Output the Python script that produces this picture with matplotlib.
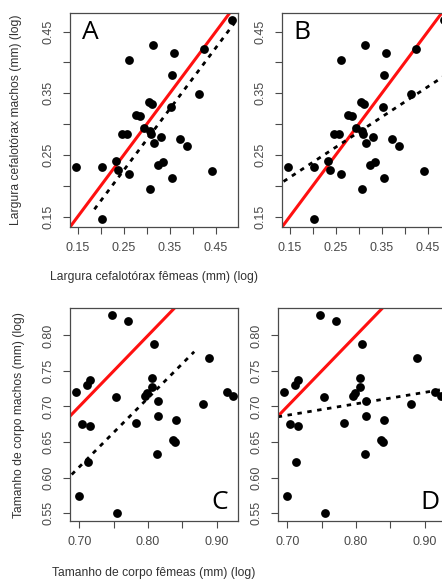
import numpy as np
import matplotlib
matplotlib.use("Agg")
import matplotlib.pyplot as plt

# cephalothorax width (log), females vs males -- panels A and B
cef_femeas = [0.145, 0.202, 0.203, 0.232, 0.238, 0.261, 0.247, 0.257, 0.262, 0.277,
              0.284, 0.293, 0.304, 0.312, 0.306, 0.310, 0.315, 0.313, 0.306, 0.331,
              0.325, 0.335, 0.355, 0.353, 0.355, 0.360, 0.371, 0.387, 0.413, 0.425,
              0.441, 0.486]
cef_machos = [0.231, 0.231, 0.146, 0.240, 0.225, 0.219, 0.283, 0.284, 0.403, 0.315,
              0.313, 0.294, 0.335, 0.332, 0.288, 0.284, 0.270, 0.428, 0.195, 0.279,
              0.233, 0.238, 0.213, 0.328, 0.379, 0.415, 0.276, 0.264, 0.349, 0.421,
              0.223, 0.468]

# body size (log), females vs males -- panels C and D
corpo_femeas = [0.695, 0.704, 0.700, 0.711, 0.716, 0.716, 0.713, 0.748, 0.753, 0.755,
                0.771, 0.783, 0.796, 0.799, 0.806, 0.806, 0.809, 0.815, 0.815, 0.813,
                0.836, 0.839, 0.840, 0.880, 0.888, 0.915, 0.923]
corpo_machos = [0.721, 0.675, 0.574, 0.730, 0.737, 0.672, 0.622, 0.828, 0.714, 0.550,
                0.820, 0.677, 0.715, 0.719, 0.727, 0.740, 0.788, 0.708, 0.686, 0.633,
                0.653, 0.650, 0.681, 0.703, 0.768, 0.721, 0.715]

# fitted lines (slope, intercept, x start, x end)
fit_A = (0.993, -0.023, 0.186, 0.49)
fit_B = (0.49, 0.140, 0.10, 0.55)
fit_C = (0.97, -0.064, 0.689, 0.867)
fit_D = (0.161, 0.575, 0.60, 1.00)

cef_yticks = [0.15, 0.20, 0.25, 0.30, 0.35, 0.40, 0.45]
cef_ylabels = ["0.15", "", "0.25", "", "0.35", "", "0.45"]
cef_xticks = [0.15, 0.20, 0.25, 0.30, 0.35, 0.40, 0.45]
cef_xlabels = ["0.15", "", "0.25", "", "0.35", "", "0.45"]
corpo_xticks = [0.70, 0.75, 0.80, 0.85, 0.90]
corpo_xlabels = ["0.70", "", "0.80", "", "0.90"]
corpo_yticks = [0.55, 0.60, 0.65, 0.70, 0.75, 0.80]
corpo_ylabels = ["0.55", "0.60", "0.65", "0.70", "0.75", "0.80"]

W, H = 442, 580
fig = plt.figure(figsize=(W / 100, H / 100), dpi=100)
plt.rcParams['font.family'] = ['Liberation Sans', 'DejaVu Sans']
grey = "#4a4a4a"


def box(l, t, w, h):
    return [l / W, (H - t - h) / H, w / W, h / H]


def panel(rect, x, y, xlim, ylim, xt, xl, yt, yl, fit, letter, lpos):
    ax = fig.add_axes(rect)
    ax.set_xlim(xlim)
    ax.set_ylim(ylim)
    ax.scatter(x, y, s=40, color="black", zorder=3, linewidths=0)
    lo = max(xlim[0], ylim[0])
    hi = min(xlim[1], ylim[1])
    ax.plot([lo, hi], [lo, hi], color="#ff1010", lw=2.2, zorder=2)
    a, b, x0, x1 = fit
    xx = np.array([x0, x1])
    ax.plot(xx, a * xx + b, color="black", lw=2.0, linestyle=(0, (1.6, 2.0)), zorder=2)
    ax.set_xticks(xt)
    ax.set_xticklabels(xl, fontsize=9, color=grey)
    ax.set_yticks(yt)
    ax.set_yticklabels(yl, fontsize=9, color=grey, rotation=90, va="center")
    ax.tick_params(length=5, width=0.8, color=grey, pad=6)
    for s in ax.spines.values():
        s.set_color(grey)
        s.set_linewidth(0.9)
    ax.text(lpos[0], lpos[1], letter, transform=ax.transAxes, fontsize=19,
            family="Open Sans", ha="center", va="center", color="black")
    return ax


cef_xlim = (0.133, 0.498)
cef_ylim = (0.133, 0.480)
corpo_xlim = (0.6865, 0.9307)
corpo_ylim = (0.539, 0.8385)

panel(box(70, 13, 168, 214), cef_femeas, cef_machos, cef_xlim, cef_ylim,
      cef_xticks, cef_xlabels, cef_yticks, cef_ylabels, fit_A, "A", (0.12, 0.91))
panel(box(282, 13, 168, 214), cef_femeas, cef_machos, cef_xlim, cef_ylim,
      cef_xticks, cef_xlabels, cef_yticks, cef_ylabels, fit_B, "B", (0.12, 0.91))
panel(box(70, 308, 168, 213), corpo_femeas, corpo_machos, corpo_xlim, corpo_ylim,
      corpo_xticks, corpo_xlabels, corpo_yticks, corpo_ylabels, fit_C, "C", (0.89, 0.085))
panel(box(278, 308, 168, 213), corpo_femeas, corpo_machos, corpo_xlim, corpo_ylim,
      corpo_xticks, corpo_xlabels, corpo_yticks, corpo_ylabels, fit_D, "D", (0.905, 0.085))

lab = "#333333"
fs = 8.7
fig.text(154 / W, 1 - 277 / H, "Largura cefalotórax fêmeas (mm) (log)", fontsize=fs,
         color=lab, ha="center", va="center")
fig.text(16 / W, 1 - 120 / H, "Largura cefalotórax machos (mm) (log)", fontsize=fs,
         color=lab, ha="center", va="center", rotation=90)
fig.text(154 / W, 1 - 573 / H, "Tamanho de corpo fêmeas (mm) (log)", fontsize=fs,
         color=lab, ha="center", va="center")
fig.text(19 / W, 1 - 415 / H, "Tamanho de corpo machos (mm) (log)", fontsize=fs,
         color=lab, ha="center", va="center", rotation=90)

fig.savefig("out.png", dpi=100)
